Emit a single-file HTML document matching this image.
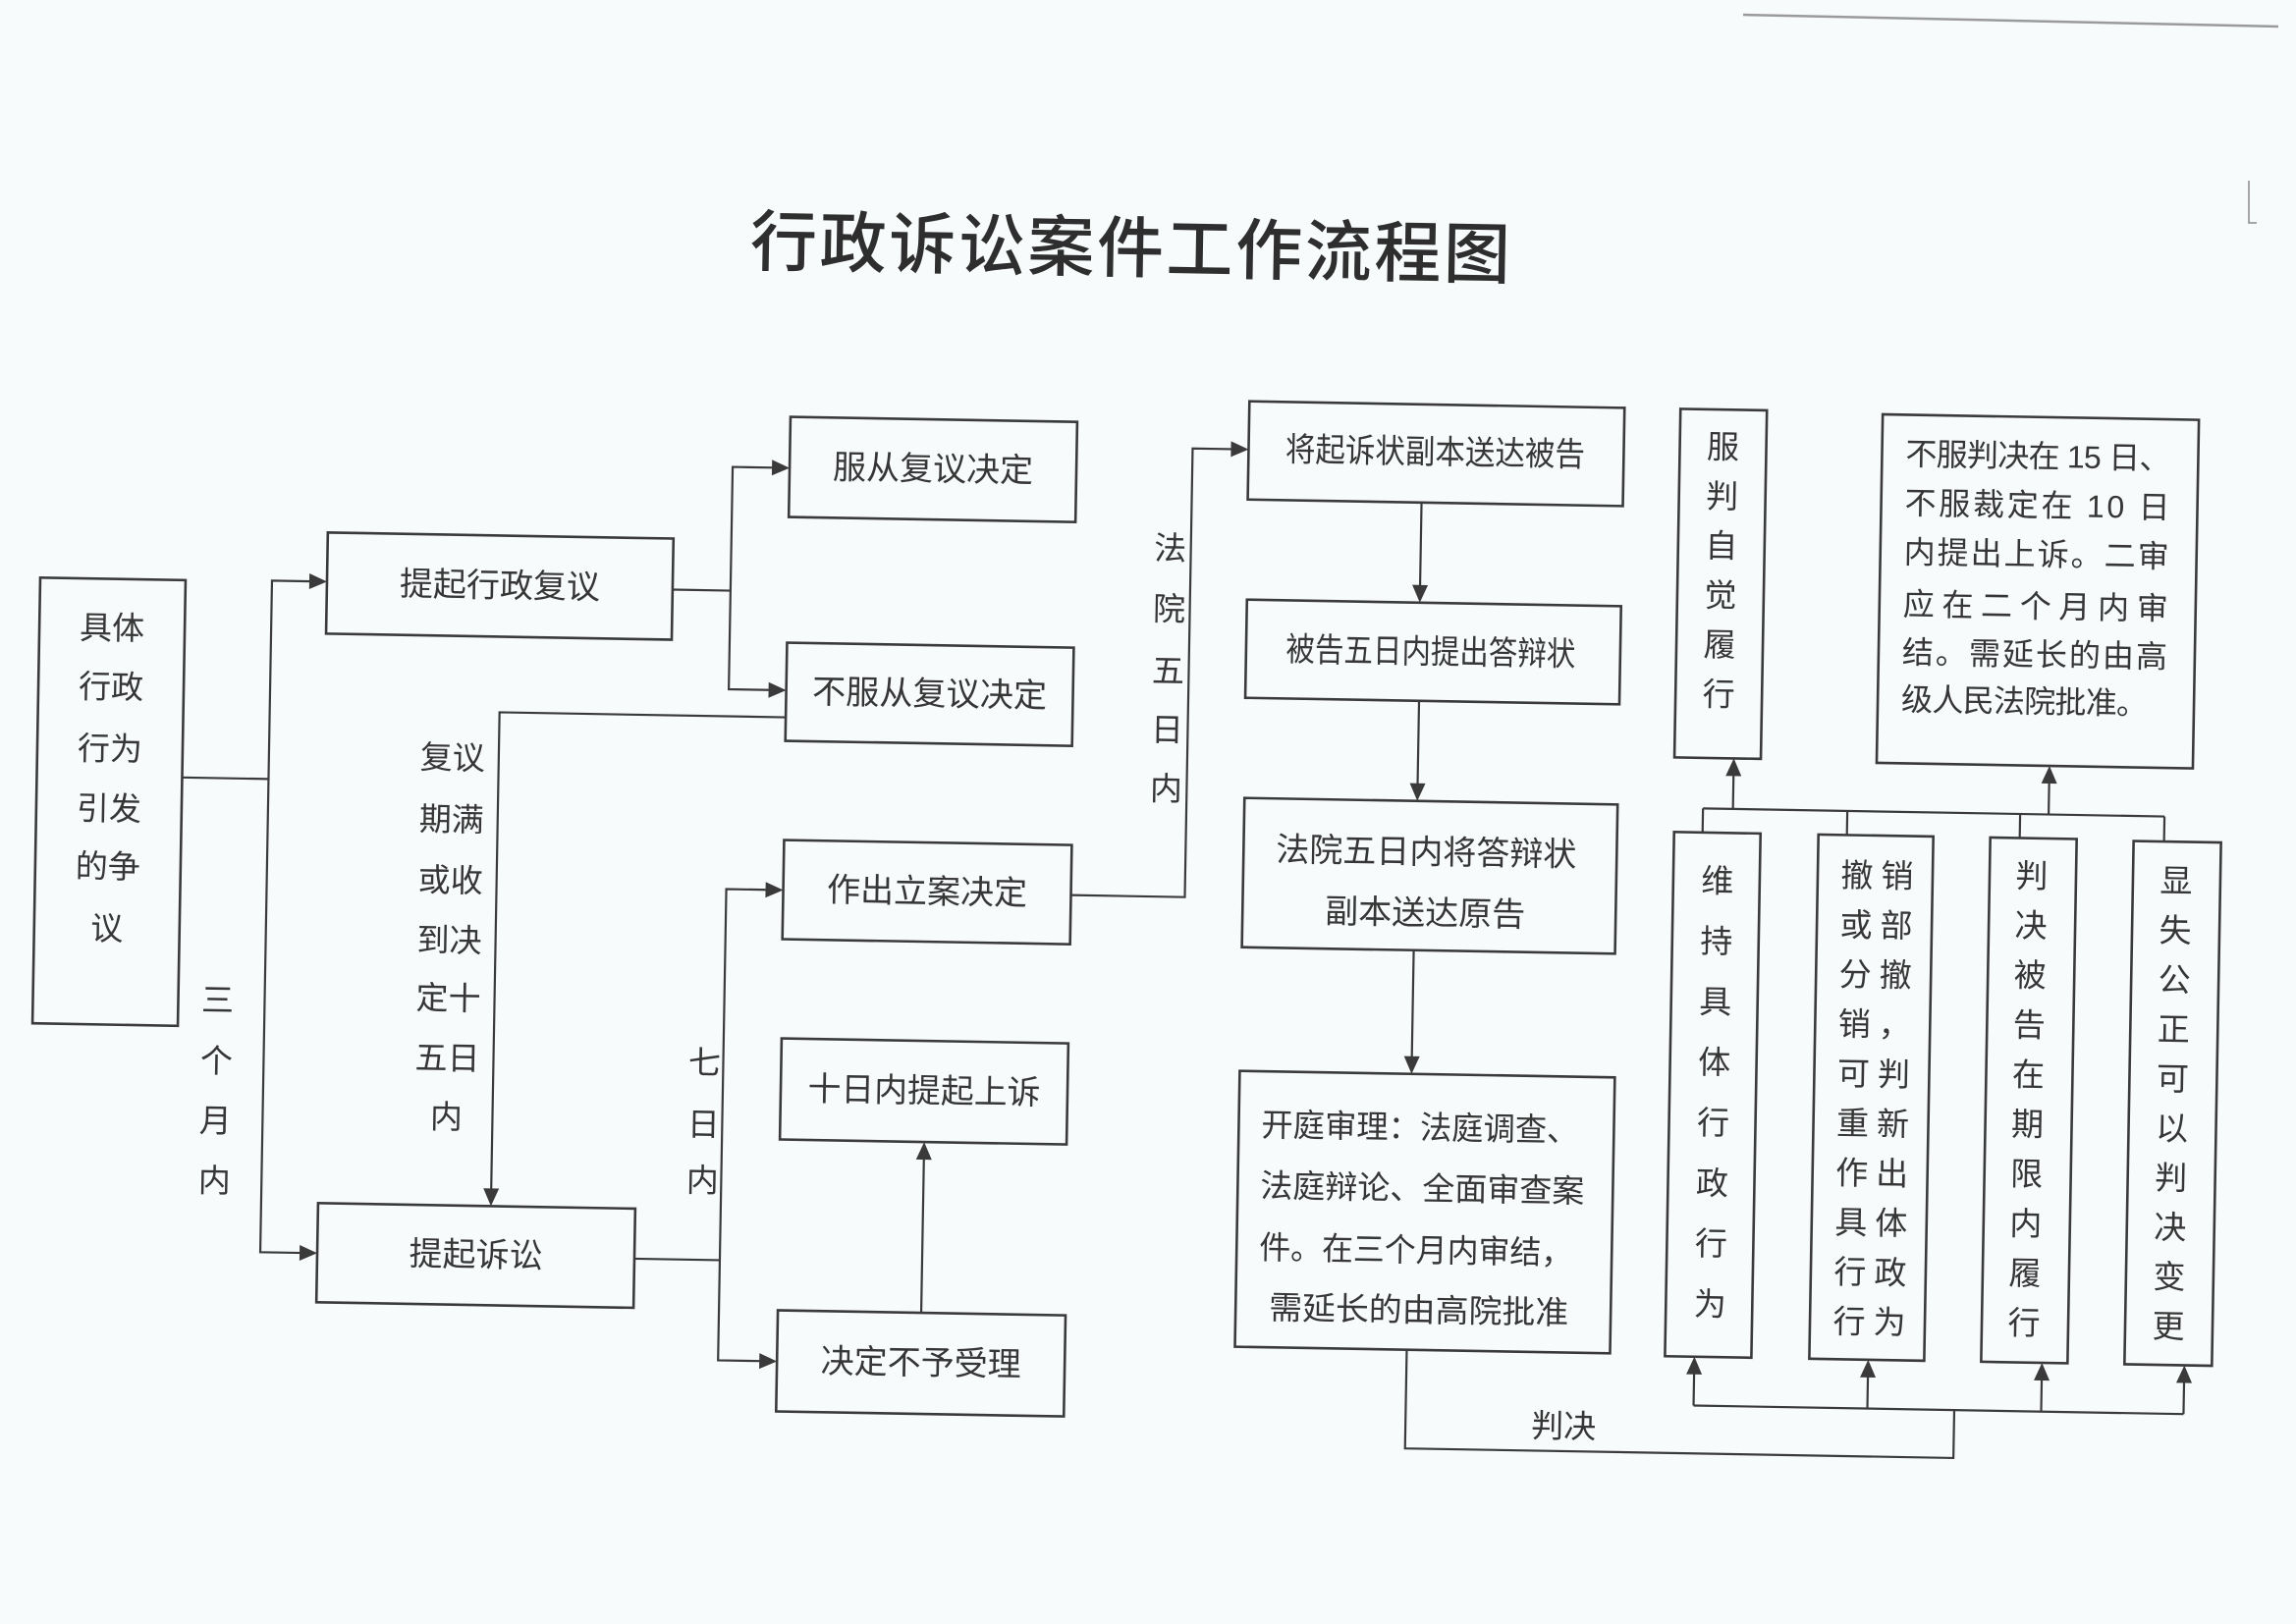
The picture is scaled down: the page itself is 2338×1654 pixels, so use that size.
<!DOCTYPE html>
<html>
<head>
<meta charset="utf-8">
<style>
html,body{margin:0;padding:0;background:#f8fbfc;}
svg{display:block;}
text{font-family:"Liberation Sans","Noto Sans CJK SC","WenQuanYi Zen Hei",sans-serif;fill:#363636;dominant-baseline:central;}
</style>
</head>
<body>
<svg width="2338" height="1654" viewBox="0 0 2338 1654" xmlns="http://www.w3.org/2000/svg">
<rect x="0" y="0" width="2338" height="1654" fill="#f8fbfc"/>
<!-- scan artifacts -->
<line x1="1775" y1="15" x2="2320" y2="27" stroke="#9a9a9a" stroke-width="2.5"/>
<polyline points="2290,184 2290,227 2298,227" fill="none" stroke="#8a8a8a" stroke-width="1.5"/>

<g transform="rotate(1 1169 827)">
  <!-- Title -->
  <text x="1141" y="254" font-size="68" font-weight="500" text-anchor="middle" textLength="774" lengthAdjust="spacing" style="fill:#2e2e2e">行政诉讼案件工作流程图</text>

  <g fill="none" stroke="#3a3a3a" stroke-width="2.6">
    <!-- boxes -->
    <rect x="37" y="608" width="148" height="454"/>
    <rect x="329" y="557" width="352" height="103"/>
    <rect x="798" y="431" width="292" height="102"/>
    <rect x="798.5" y="661" width="292" height="100"/>
    <rect x="799" y="862" width="293" height="101"/>
    <rect x="800" y="1064" width="292" height="103"/>
    <rect x="331" y="1240" width="323" height="101"/>
    <rect x="801" y="1341" width="293" height="103"/>
    <rect x="1265" y="407" width="382" height="100"/>
    <rect x="1266" y="609" width="381" height="100"/>
    <rect x="1267" y="811" width="380" height="152"/>
    <rect x="1267" y="1089" width="382" height="281"/>
    <rect x="1704" y="407" width="88" height="355"/>
    <rect x="1910" y="409" width="322" height="355"/>
    <rect x="1705" y="838" width="88" height="534"/>
    <rect x="1852" y="838" width="117" height="534"/>
    <rect x="2027" y="838" width="88" height="534"/>
    <rect x="2173" y="839" width="89" height="533"/>
  </g>

  <g fill="none" stroke="#3a3a3a" stroke-width="2.2">
    <!-- left trunk -->
    <polyline points="185,809 273,809"/>
    <polyline points="314,607 273,607 273,1291 316,1291"/>
    <!-- from 提起行政复议 -->
    <polyline points="681,609 740,609"/>
    <polyline points="782,483 740,483 740,709.5 782,709.5"/>
    <!-- 不服从 to 提起诉讼 -->
    <polyline points="798.5,737 507,737 507,1224"/>
    <!-- from 提起诉讼 -->
    <polyline points="654,1291 741,1291"/>
    <polyline points="783,913 741,913 741,1393 785,1393"/>
    <!-- 不予受理 to 上诉 -->
    <polyline points="947,1341 947,1183"/>
    <!-- 立案 to 将起诉状 -->
    <polyline points="1092,913 1208,913 1208,456 1249,456"/>
    <!-- center column -->
    <polyline points="1442,507 1442,593"/>
    <polyline points="1443,709 1443,795"/>
    <polyline points="1442,963 1442,1073"/>
    <!-- 判决 loop -->
    <polyline points="1442,1370 1442,1470.5 2000.5,1470.5 2000.5,1421.7"/>
    <polyline points="1735,1421.7 2234,1421.7"/>
    <line x1="1735" y1="1421.7" x2="1735" y2="1388"/>
    <line x1="1912" y1="1421.7" x2="1912" y2="1388"/>
    <line x1="2089" y1="1421.7" x2="2089" y2="1388"/>
    <line x1="2234" y1="1421.7" x2="2234" y2="1388"/>
    <!-- top right connectors -->
    <polyline points="1734,813.5 2204,813.5"/>
    <line x1="1734" y1="813.5" x2="1734" y2="838"/>
    <line x1="1881" y1="813.5" x2="1881" y2="838"/>
    <line x1="2057" y1="813.5" x2="2057" y2="838"/>
    <line x1="2204" y1="813.5" x2="2204" y2="838"/>
    <line x1="1764.5" y1="813.5" x2="1764.5" y2="778"/>
    <line x1="2086" y1="813.5" x2="2086" y2="780"/>
  </g>

  <g fill="#3a3a3a" stroke="none">
    <!-- right arrows -->
    <polygon points="311,599 329,607 311,615"/>
    <polygon points="313,1283 331,1291 313,1299"/>
    <polygon points="780,475 798,483 780,491"/>
    <polygon points="780.5,701.5 798.5,709.5 780.5,717.5"/>
    <polygon points="781,905 799,913 781,921"/>
    <polygon points="783,1385 801,1393 783,1401"/>
    <polygon points="1247,448 1265,456 1247,464"/>
    <!-- down arrows -->
    <polygon points="499,1222 507,1240 515,1222"/>
    <polygon points="1434,591 1442,609 1450,591"/>
    <polygon points="1435,793 1443,811 1451,793"/>
    <polygon points="1434,1071 1442,1089 1450,1071"/>
    <!-- up arrows -->
    <polygon points="939,1185 947,1167 955,1185"/>
    <polygon points="1727,1390 1735,1372 1743,1390"/>
    <polygon points="1904,1390 1912,1372 1920,1390"/>
    <polygon points="2081,1390 2089,1372 2097,1390"/>
    <polygon points="2226,1390 2234,1372 2242,1390"/>
    <polygon points="1756.5,780 1764.5,762 1772.5,780"/>
    <polygon points="2078,782 2086,764 2094,782"/>
  </g>

  <!-- box texts -->
  <g font-size="34" text-anchor="middle">
    <text x="505" y="608.5">提起行政复议</text>
    <text x="944" y="482">服从复议决定</text>
    <text x="944.5" y="711" textLength="239" lengthAdjust="spacingAndGlyphs">不服从复议决定</text>
    <text x="945.5" y="912.5">作出立案决定</text>
    <text x="946" y="1115.5" textLength="237" lengthAdjust="spacingAndGlyphs">十日内提起上诉</text>
    <text x="492.5" y="1290.5">提起诉讼</text>
    <text x="947.5" y="1392.5">决定不予受理</text>
    <text x="1455" y="456" textLength="305" lengthAdjust="spacingAndGlyphs">将起诉状副本送达被告</text>
    <text x="1454" y="659.5" textLength="295" lengthAdjust="spacingAndGlyphs">被告五日内提出答辩状</text>
    <text x="1453" y="863.5" textLength="306" lengthAdjust="spacingAndGlyphs">法院五日内将答辩状</text>
    <text x="1453" y="925.5">副本送达原告</text>
  </g>

  <g font-size="33">
    <text x="1290" y="1143.4" textLength="323" lengthAdjust="spacingAndGlyphs">开庭审理：法庭调查、</text>
    <text x="1290" y="1205.4" textLength="330" lengthAdjust="spacingAndGlyphs">法庭辩论、全面审查案</text>
    <text x="1290" y="1268.4" textLength="319" lengthAdjust="spacingAndGlyphs">件。在三个月内审结，</text>
    <text x="1301" y="1329.4" textLength="305" lengthAdjust="spacingAndGlyphs">需延长的由高院批准</text>
  </g>

  <!-- 不服判决 box -->
  <g font-size="32">
    <text x="1934" y="449" textLength="270" lengthAdjust="spacing">不服判决在 15 日、</text>
    <text x="1934" y="499" textLength="270" lengthAdjust="spacing">不服裁定在 10 日</text>
    <text x="1934" y="549" textLength="270" lengthAdjust="spacing">内提出上诉。二审</text>
    <text x="1934" y="602" textLength="270" lengthAdjust="spacing">应在二个月内审</text>
    <text x="1934" y="651" textLength="270" lengthAdjust="spacing">结。需延长的由高</text>
    <text x="1934" y="699" textLength="251" lengthAdjust="spacing">级人民法院批准。</text>
  </g>

  <!-- vertical texts -->
  <g font-size="33" text-anchor="middle">
    <!-- box1 -->
    <text x="111" y="658">具体</text>
    <text x="111" y="718">行政</text>
    <text x="111" y="781">行为</text>
    <text x="111" y="842">引发</text>
    <text x="111" y="901">的争</text>
    <text x="111" y="964">议</text>
    <!-- 三个月内 -->
    <text x="225" y="1035">三</text>
    <text x="225" y="1097">个</text>
    <text x="225" y="1158">月</text>
    <text x="225" y="1219">内</text>
    <!-- 复议期满... -->
    <text x="460" y="784">复议</text>
    <text x="460" y="847">期满</text>
    <text x="460" y="909">或收</text>
    <text x="460" y="970">到决</text>
    <text x="460" y="1029">定十</text>
    <text x="460" y="1090">五日</text>
    <text x="460" y="1150">内</text>
    <!-- 七日内 -->
    <text x="722" y="1090">七</text>
    <text x="722" y="1153">日</text>
    <text x="722" y="1210">内</text>
    <!-- 法院五日内 -->
    <text x="1187" y="558">法</text>
    <text x="1187" y="620">院</text>
    <text x="1187" y="683">五</text>
    <text x="1187" y="743">日</text>
    <text x="1187" y="803">内</text>
    <!-- 判决 -->
    <text x="1603" y="1445">判决</text>
    <!-- 服判自觉履行 -->
    <text x="1748" y="445">服</text>
    <text x="1748" y="495.4">判</text>
    <text x="1748" y="545.8">自</text>
    <text x="1748" y="596.2">觉</text>
    <text x="1748" y="646.6">履</text>
    <text x="1748" y="697">行</text>
    <!-- 维持具体行政行为 -->
    <text x="1750" y="887">维</text>
    <text x="1750" y="948.6">持</text>
    <text x="1750" y="1010.2">具</text>
    <text x="1750" y="1071.8">体</text>
    <text x="1750" y="1133.4">行</text>
    <text x="1750" y="1195">政</text>
    <text x="1750" y="1256.6">行</text>
    <text x="1750" y="1318.2">为</text>
    <!-- 撤销或部分撤销，可判重新作出具体行政行为 -->
    <text x="1892" y="879">撤</text><text x="1933" y="879">销</text>
    <text x="1892" y="929.5">或</text><text x="1933" y="929.5">部</text>
    <text x="1892" y="980">分</text><text x="1933" y="980">撤</text>
    <text x="1892" y="1030.5">销</text><text x="1933" y="1030.5">，</text>
    <text x="1892" y="1081">可</text><text x="1933" y="1081">判</text>
    <text x="1892" y="1131.5">重</text><text x="1933" y="1131.5">新</text>
    <text x="1892" y="1182">作</text><text x="1933" y="1182">出</text>
    <text x="1892" y="1232.5">具</text><text x="1933" y="1232.5">体</text>
    <text x="1892" y="1283">行</text><text x="1933" y="1283">政</text>
    <text x="1892" y="1333.5">行</text><text x="1933" y="1333.5">为</text>
    <!-- 判决被告在期限内履行 -->
    <text x="2070" y="876.4">判</text>
    <text x="2070" y="927">决</text>
    <text x="2070" y="977.6">被</text>
    <text x="2070" y="1028.2">告</text>
    <text x="2070" y="1078.8">在</text>
    <text x="2070" y="1129.4">期</text>
    <text x="2070" y="1180">限</text>
    <text x="2070" y="1230.6">内</text>
    <text x="2070" y="1281.2">履</text>
    <text x="2070" y="1331.8">行</text>
    <!-- 显失公正可以判决变更 -->
    <text x="2217" y="879">显</text>
    <text x="2217" y="929.4">失</text>
    <text x="2217" y="979.8">公</text>
    <text x="2217" y="1030.2">正</text>
    <text x="2217" y="1080.6">可</text>
    <text x="2217" y="1131">以</text>
    <text x="2217" y="1181.4">判</text>
    <text x="2217" y="1231.8">决</text>
    <text x="2217" y="1282.2">变</text>
    <text x="2217" y="1332.6">更</text>
  </g>
</g>
</svg>
</body>
</html>
